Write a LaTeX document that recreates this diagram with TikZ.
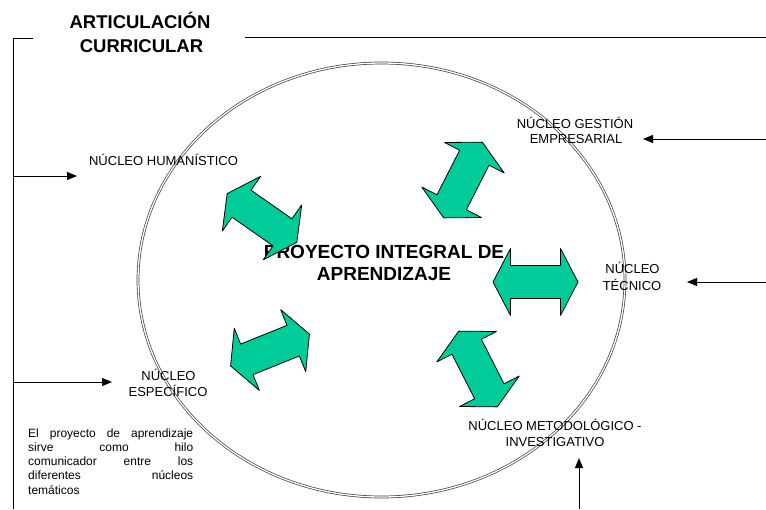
\documentclass[tikz,border=0pt]{standalone}
\usepackage{fontspec}
\setmainfont{Liberation Sans}
\usetikzlibrary{arrows.meta}
\definecolor{arrowgreen}{RGB}{0,204,153}
\tikzset{
  lbl/.style={font=\fontsize{13}{16}\selectfont, inner sep=0pt, anchor=base},
  ttl/.style={font=\bfseries\fontsize{18.5}{24}\selectfont, inner sep=0pt, anchor=base},
  proy/.style={font=\bfseries\fontsize{19}{22}\selectfont, inner sep=0pt, anchor=base},
  feed/.style={line width=1pt, -{Triangle[length=10pt,width=8pt]}},
  frameline/.style={line width=1pt},
  dblarrow/.style={fill=arrowgreen, draw=black, line width=0.8pt, line join=round},
  orb/.style={draw=black!75, double=white, double distance=1.3pt, line width=0.7pt},
  pics/dbl/.style={code={
    \draw[dblarrow] (-42.5,0) -- (-25,-33.5) -- (-25,-16.5) -- (25,-16.5) -- (25,-33.5)
      -- (42.5,0) -- (25,33.5) -- (25,16.5) -- (-25,16.5) -- (-25,33.5) -- cycle;}}
}
\begin{document}
\begin{tikzpicture}[x=1pt,y=-1pt]
\useasboundingbox (0,0) rectangle (766,509);
\fill[white] (0,0) rectangle (766,509);

% frame
\draw[frameline] (13,509) -- (13,38) -- (33,38);
\draw[frameline] (245,37) -- (766,37);

% title
\node[ttl] (title1) at (140,28) {ARTICULACIÓN};
\node[ttl] (title2) at (141.5,52) {CURRICULAR};

% central ellipse
\draw[orb] (381.5,280) ellipse [x radius=243.5, y radius=217];

% labels
\node[lbl] (hum) at (163.5,165) {NÚCLEO HUMANÍSTICO};
\node[lbl] (ges1) at (575,128) {NÚCLEO GESTIÓN};
\node[lbl] (ges2) at (576,143) {EMPRESARIAL};
\node[lbl] (tec1) at (632.5,273) {NÚCLEO};
\node[lbl] (tec2) at (632,290) {TÉCNICO};
\node[lbl] (esp1) at (168.5,380) {NÚCLEO};
\node[lbl] (esp2) at (168,396) {ESPECÍFICO};
\node[lbl] (met1) at (555,430) {NÚCLEO METODOLÓGICO -};
\node[lbl] (met2) at (555,446) {INVESTIGATIVO};
\node[proy] (proy1) at (384,258) {PROYECTO INTEGRAL DE};
\node[proy] (proy2) at (384,280) {APRENDIZAJE};

% note
\node[inner sep=0pt, anchor=base west] (note) at (28,437) {\parbox[t]{165pt}{\fontsize{12}{14.3}\selectfont
  \hbox to 165pt{El\hfill proyecto\hfill de\hfill aprendizaje}
  \hbox to 165pt{sirve\hfill como\hfill hilo}
  \hbox to 165pt{comunicador\hfill entre\hfill los}
  \hbox to 165pt{diferentes\hfill núcleos}
  \hbox{temáticos}}};

% feeding arrows
\coordinate (hs) at (13,176);  \coordinate (ht) at (77,176);
\coordinate (es) at (13,382);  \coordinate (et) at (112,382);
\coordinate (gs) at (766,139); \coordinate (gt) at (643,139);
\coordinate (ts) at (766,282); \coordinate (tt) at (687,282);
\coordinate (ms) at (579,509); \coordinate (mt) at (579,458);
\draw[feed] (hs) -- (ht);
\draw[feed] (es) -- (et);
\draw[feed] (gs) -- (gt);
\draw[feed] (ts) -- (tt);
\draw[feed] (ms) -- (mt);

% double block arrows
\pic[rotate=-35] at (262,218) {dbl};
\pic[rotate=63] at (463,180) {dbl};
\pic at (535.5,282) {dbl};
\pic[rotate=-63] at (478,369) {dbl};
\pic[rotate=22] at (270,350) {dbl};
\end{tikzpicture}
\end{document}
